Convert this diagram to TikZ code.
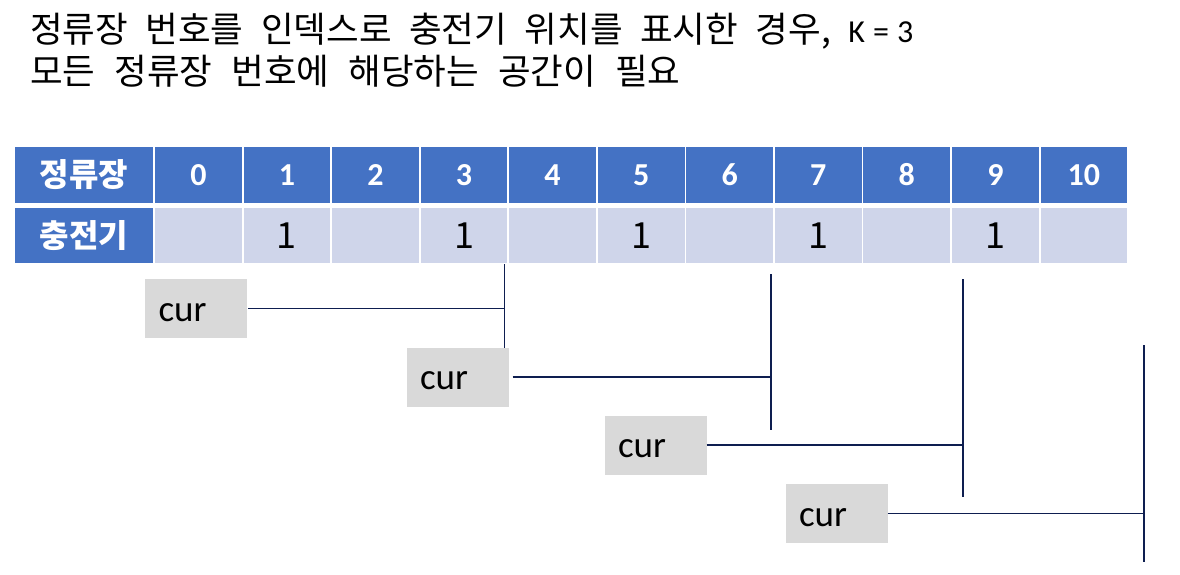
\documentclass[tikz,border=0pt]{standalone}
\usepackage{fontspec}
\newfontfamily\kr{Noto Sans CJK KR}
\newfontfamily\lat{Carlito}
\definecolor{hdr}{RGB}{68,114,196}
\definecolor{cellbg}{RGB}{207,213,234}
\definecolor{curbg}{RGB}{217,217,217}
\definecolor{navy}{RGB}{14,30,80}
\tikzset{
  hcell/.style={fill=hdr, minimum width=86.8pt, minimum height=56pt, inner sep=0pt, text=white, font=\lat\bfseries\fontsize{32pt}{38pt}\selectfont},
  lcell/.style={fill=cellbg, minimum width=86.8pt, minimum height=54.5pt, inner sep=0pt, font=\kr\fontsize{36pt}{40pt}\selectfont},
  labelcell/.style={fill=hdr, minimum width=138pt, inner sep=0pt, text=white, font=\kr\bfseries\fontsize{32pt}{38pt}\selectfont},
  curbox/.style={fill=curbg, text width=75pt, align=left, inner xsep=13.5pt, inner ysep=0pt, minimum height=59pt, text height=25pt, text depth=0pt, font=\lat\fontsize{37pt}{40pt}\selectfont},
  link/.style={draw=navy, line width=1.3pt},
  titletext/.style={anchor=base west, inner sep=0pt, font=\kr\fontsize{35.5pt}{40pt}\selectfont}
}
\begin{document}
\begin{tikzpicture}[x=1pt,y=-1pt]
\useasboundingbox[fill=white] (0,0) rectangle (1180,575);
% title
\node[titletext] (t1) at (30,42.5) {\spaceskip=17.5pt\relax 정류장 번호를 인덱스로 충전기 위치를 표시한 경우, {\lat\fontsize{32pt}{38pt}\selectfont\spaceskip=8pt\relax K = 3}};
\node[titletext] (t2) at (30,84.5) {\spaceskip=19pt\relax 모든 정류장 번호에 해당하는 공간이 필요};
% table
\node[labelcell, minimum height=56pt] (lh) at (84,175) {정류장};
\node[labelcell, minimum height=54.5pt] (lc) at (84,235.5) {충전기};
\foreach \i in {0,...,10}{
  \node[hcell] (h\i) at ({198.4+88.55*\i},175) {\i};
  \node[lcell] (r\i) at ({198.4+88.55*\i},235.5) {\ifodd\i\relax 1\fi};
}
% cur boxes
\node[curbox] (c1) at (196,308.5) {cur};
\node[curbox] (c2) at (457.5,377) {cur};
\node[curbox] (c3) at (655.5,445) {cur};
\node[curbox] (c4) at (836.5,513.5) {cur};
% vertical markers
\coordinate (v1a) at (504.5,264); \coordinate (v1b) at (504.5,348);
\coordinate (v2a) at (771,274);   \coordinate (v2b) at (771,430);
\coordinate (v3a) at (963,279);   \coordinate (v3b) at (963,497);
\coordinate (v4a) at (1144,345);  \coordinate (v4b) at (1144,562);
\draw[link] (v1a) -- (v1b);
\draw[link] (v2a) -- (v2b);
\draw[link] (v3a) -- (v3b);
\draw[link] (v4a) -- (v4b);
% horizontal links
\draw[link, shorten <=1pt] (c1.east) -- (c1.east -| v1a);
\draw[link, shorten <=4pt] (c2.east) -- (c2.east -| v2a);
\draw[link] (c3.east) -- (c3.east -| v3a);
\draw[link] (c4.east) -- (c4.east -| v4a);
\end{tikzpicture}
\end{document}
